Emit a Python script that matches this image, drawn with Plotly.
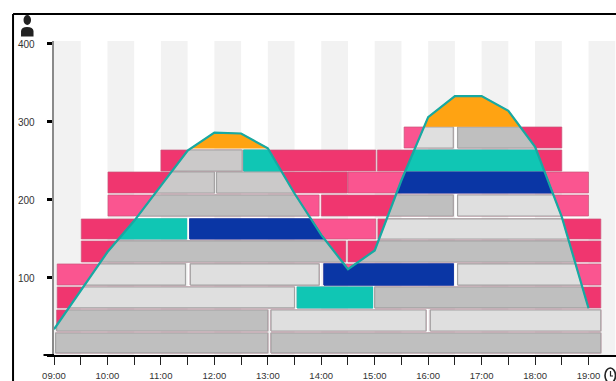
import numpy as np
import plotly.graph_objects as go

# Occupancy curve, half-hourly
times = [9, 9.5, 10, 10.5, 11, 11.5, 12, 12.5, 13, 13.5, 14, 14.5, 15, 15.5, 16, 16.5, 17, 17.5, 18, 18.5, 19]
people = [33, 83, 132, 172, 217, 262, 285, 284, 265, 207, 154, 110, 134, 224, 305, 332, 332, 313, 267, 177, 60]

# Shift rows, bottom to top
row_bottom = [2.6, 30.8, 60.3, 89.7, 119.2, 148.7, 178.2, 207.7, 235.9, 265.4, 293.5]
row_top = [28.2, 57.7, 87.2, 116.7, 146.2, 174.4, 205.1, 234.6, 262.8, 292.3, 345]

# Shifts
bar_row = [0, 0,
           1, 1, 1,
           2, 2, 2,
           3, 3, 3, 3,
           4, 4,
           5, 5, 5,
           6, 6, 6,
           7, 7, 7,
           8, 8, 8,
           9, 9, 9,
           10]
bar_start = [9.03, 13.06,
             9.05, 13.06, 16.04,
             9.06, 13.55, 15.0,
             9.06, 11.55, 14.05, 16.55,
             9.51, 14.5,
             9.51, 11.54, 15.06,
             10.01, 14.0, 16.55,
             10.01, 12.04, 14.5,
             11.0, 12.55, 15.05,
             11.0, 15.55, 16.55,
             15.5]
bar_end = [13.0, 19.23,
           13.0, 15.96, 19.23,
           13.5, 14.96, 19.23,
           11.46, 13.96, 16.47, 19.23,
           14.46, 19.23,
           11.48, 15.02, 19.23,
           13.96, 16.47, 19.0,
           12.0, 14.49, 19.0,
           12.52, 15.02, 18.5,
           13.5, 16.47, 18.5,
           18.5]
bar_kind = ["gray", "gray",
            "gray", "light", "light",
            "light", "teal", "gray",
            "light", "light", "blue", "light",
            "gray", "gray",
            "teal", "blue", "light",
            "gray", "gray", "light",
            "mid", "mid", "blue",
            "mid", "teal", "teal",
            "orange", "light", "gray",
            "orange"]
bar_shade = ["dark", "dark",
             "dark", "dark", "dark",
             "dark", "dark", "dark",
             "soft", "soft", "soft", "soft",
             "dark", "dark",
             "dark", "soft", "dark",
             "soft", "dark", "soft",
             "dark", "dark", "soft",
             "dark", "dark", "dark",
             None, "soft", "dark",
             None]

y_ticks = [0, 100, 200, 300, 400]
hour_ticks = [9, 9.5, 10, 10.5, 11, 11.5, 12, 12.5, 13, 13.5, 14, 14.5, 15, 15.5, 16, 16.5, 17, 17.5, 18, 18.5, 19]
hour_labels = ["09:00", "", "10:00", "", "11:00", "", "12:00", "", "13:00", "", "14:00", "", "15:00", "", "16:00", "", "17:00",
               "", "18:00", "", "19:00"]
stripe_starts = [9, 10, 11, 12, 13, 14, 15, 16, 17, 18, 19]

COLORS = {"gray": "#bfbfbf", "mid": "#cbc9c9", "light": "#dfdfdf", "teal": "#10c6b4", "blue": "#0a36a5", "orange": "#ffa312"}
SHADES = {"dark": "#f0366f", "soft": "#fa5590"}
W, H = 616, 381
L, T, B = 53.5, 41, 26
FONT = "Liberation Sans Narrow, Liberation Sans, Arial, sans-serif"


def px(x):
    return (x - L) / (W - L)


def py(y):
    return (H - B - y) / (H - B - T)


def curve(x):
    return float(np.interp(x, times, people))


def under_curve(x0, x1, y0, y1):
    breaks = {x0, x1}
    for i in range(len(times) - 1):
        a, b, va, vb = times[i], times[i + 1], people[i], people[i + 1]
        if x0 < a < x1:
            breaks.add(a)
        for lvl in (y0, y1):
            if (va - lvl) * (vb - lvl) < 0:
                c = a + (lvl - va) * (b - a) / (vb - va)
                if x0 < c < x1:
                    breaks.add(c)
    xs = sorted(breaks)
    pieces, cur = [], []
    for a, b in zip(xs[:-1], xs[1:]):
        if curve((a + b) / 2) > y0:
            if not cur:
                cur = [a]
            cur.append(b)
        elif cur:
            pieces.append(cur)
            cur = []
    if cur:
        pieces.append(cur)
    return [
        ([p[0]] + p + [p[-1], p[0]], [y0] + [min(curve(v), y1) for v in p] + [y0, y0])
        for p in pieces
    ]


fig = go.Figure()
outer = {k: ([], []) for k in SHADES}
inner = {k: ([], []) for k in COLORS}
for r, s, e, k, sh in zip(bar_row, bar_start, bar_end, bar_kind, bar_shade):
    y0, y1 = row_bottom[r], row_top[r]
    if sh:
        outer[sh][0].extend([s, e, e, s, s, None])
        outer[sh][1].extend([y0, y0, y1, y1, y0, None])
    for xs, ys in under_curve(s, e, y0, y1):
        inner[k][0].extend(xs + [None])
        inner[k][1].extend(ys + [None])

for k, (xs, ys) in outer.items():
    fig.add_trace(go.Scatter(x=xs, y=ys, mode="lines", fill="toself", fillcolor=SHADES[k],
                             line=dict(color="#c9557a", width=0.7), hoverinfo="skip", showlegend=False))
for k, (xs, ys) in inner.items():
    edge = COLORS[k] if k in ("orange", "blue", "teal") else "#a4a4a4"
    fig.add_trace(go.Scatter(x=xs, y=ys, mode="lines", fill="toself", fillcolor=COLORS[k],
                             line=dict(color=edge, width=1.2), hoverinfo="skip", showlegend=False))
fig.add_trace(go.Scatter(x=times, y=people, mode="lines", line=dict(color="#17a9a2", width=2.2),
                         hoverinfo="skip", showlegend=False))

shapes = [dict(type="rect", xref="x", yref="paper", x0=s, x1=s + 0.5, y0=0, y1=1, layer="below",
               fillcolor="#f2f2f2", line_width=0) for s in stripe_starts]
black = dict(color="#000000", width=2)
shapes += [
    dict(type="line", xref="paper", yref="paper", x0=px(12.5), x1=1, y0=py(14), y1=py(14), line=black),
    dict(type="line", xref="paper", yref="paper", x0=px(12.5), x1=px(12.5), y0=py(14), y1=py(381), line=black),
    dict(type="line", xref="paper", yref="paper", x0=px(43), x1=px(53.5), y0=0, y1=0, line=black),
    dict(type="circle", xref="paper", yref="paper", x0=px(23), x1=px(30.5), y0=py(25), y1=py(15), fillcolor="#222", line_width=0),
    dict(type="path", xref="paper", yref="paper", fillcolor="#222", line_width=0,
         path=f"M {px(20.5)} {py(36.5)} L {px(20.5)} {py(31)} Q {px(21)} {py(27)} {px(26.5)} {py(27)} "
              f"Q {px(32.5)} {py(27)} {px(33)} {py(31)} L {px(33)} {py(36.5)} Z"),
    dict(type="circle", xref="paper", yref="paper", x0=px(605), x1=px(615.5), y0=py(383), y1=py(368),
         line=dict(color="#222", width=1.6)),
    dict(type="path", xref="paper", yref="paper", line=dict(color="#222", width=1.2),
         path=f"M {px(610.5)} {py(371)} L {px(610.5)} {py(376)} L {px(613)} {py(376)}"),
]

annotations = [dict(xref="paper", yref="y", x=px(26), y=v - 2, text=str(v), showarrow=False, xanchor="center", yanchor="middle",
                    font=dict(family=FONT, size=10, color="#333")) for v in y_ticks]

fig.update_layout(
    width=W, height=H, autosize=False,
    margin=dict(l=L, r=0, t=T, b=B, pad=0, autoexpand=False),
    paper_bgcolor="white", plot_bgcolor="white",
    shapes=shapes, annotations=annotations, showlegend=False,
    xaxis=dict(range=[9, 9 + (W - L) / 53.5], tickmode="array", tickvals=hour_ticks, ticktext=hour_labels,
               ticks="outside", ticklen=8, tickwidth=1, tickcolor="#222", showgrid=False, zeroline=False,
               showline=True, linecolor="#000", linewidth=2, ticklabelstandoff=3, automargin=False,
               tickfont=dict(family=FONT, size=9.5, color="#333")),
    yaxis=dict(range=[0, (H - B - T) / 0.78], tickmode="array", tickvals=y_ticks, ticktext=[""] * 5,
               ticks="outside", ticklen=5, tickwidth=2.5, tickcolor="#000", showgrid=False, zeroline=False,
               showline=True, linecolor="#8a8a8a", linewidth=1.5, automargin=False),
)
fig.write_html("out.html", config={"displayModeBar": False},
               post_script="document.body.style.margin='0';document.documentElement.style.overflow='hidden';")
